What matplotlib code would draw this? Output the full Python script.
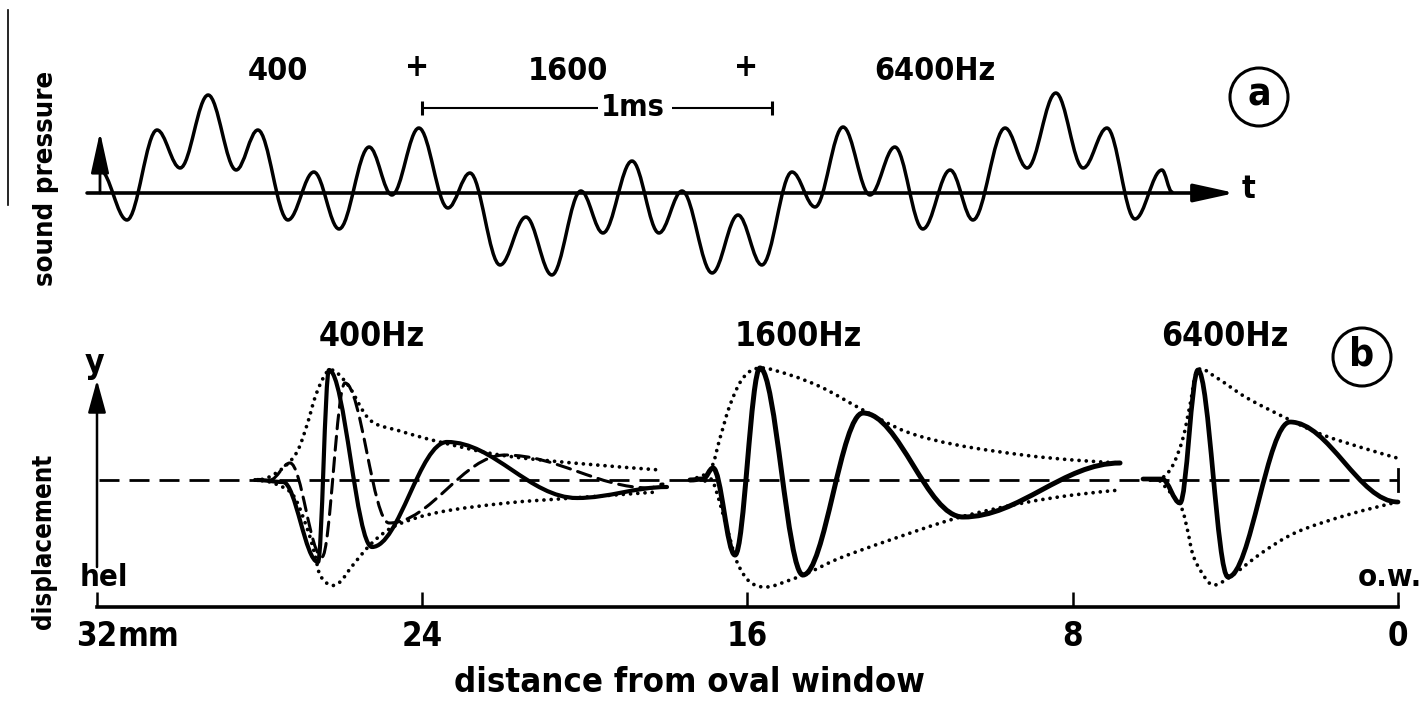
import matplotlib
matplotlib.use("Agg")
import matplotlib.pyplot as plt
import matplotlib.font_manager as fm
from matplotlib.path import Path
from matplotlib.patches import PathPatch, Circle, FancyArrowPatch

plt.rcParams['lines.scale_dashes'] = False

# ---------------- data ----------------
# (a) sound pressure: successive extrema of the waveform (time in ms, relative pressure)
wave_t = [0.000, 0.077, 0.163, 0.229, 0.309, 0.389, 0.451, 0.537, 0.611, 0.683,
          0.769, 0.834, 0.911, 0.994, 1.057, 1.143, 1.217, 1.291, 1.374, 1.437,
          1.520, 1.597, 1.663, 1.749, 1.823, 1.891, 1.977, 2.043, 2.123, 2.200,
          2.271, 2.351, 2.429, 2.494, 2.586, 2.649, 2.731, 2.809, 2.877, 2.957,
          3.034, 3.063]
wave_p = [0.23, -0.27, 0.63, 0.25, 0.98, 0.23, 0.63, -0.27, 0.21, -0.36,
          0.46, -0.02, 0.65, -0.15, 0.20, -0.72, -0.24, -0.82, 0.02, -0.40,
          0.32, -0.40, 0.02, -0.80, -0.22, -0.72, 0.21, -0.14, 0.66, -0.02,
          0.46, -0.36, 0.23, -0.27, 0.65, 0.25, 1.00, 0.25, 0.65, -0.26,
          0.23, 0.01]
top_labels = ['400', '+', '1600', '+', '6400Hz']
scale_bar_ms = 1.0

# (b) displacement vs distance from oval window (mm, relative displacement)
# 400 Hz: solid wave (extrema), dashed wave (later phase, extrema), envelope
s400_x = [28.064, 27.425, 26.564, 26.294, 25.236, 23.391, 20.193, 17.980]
s400_y = [0.00, -0.02, -0.82, 1.10, -0.67, 0.38, -0.18, -0.07]
d400_x = [27.745, 27.253, 26.466, 25.900, 24.818, 21.964, 18.398, 18.078]
d400_y = [0.00, 0.17, -0.77, 0.97, -0.43, 0.25, -0.08, -0.04]
env400u_x = [28.114, 27.819, 27.425, 27.081, 26.835, 26.589, 26.269, 25.826,
             25.285, 24.547, 23.563, 22.087, 20.292, 18.152]
env400u_y = [0.00, 0.02, 0.12, 0.28, 0.55, 0.88, 1.10, 0.95,
             0.60, 0.49, 0.38, 0.25, 0.17, 0.10]
env400l_x = [28.114, 27.671, 27.179, 26.835, 26.638, 26.515, 26.269, 26.023,
             25.703, 25.211, 24.621, 23.563, 21.915, 20.292, 18.226]
env400l_y = [0.00, -0.03, -0.15, -0.48, -0.75, -0.95, -1.05, -1.02,
             -0.85, -0.62, -0.45, -0.32, -0.23, -0.18, -0.12]
# 1600 Hz
s1600_x = [17.414, 17.094, 16.848, 16.307, 15.692, 14.635, 13.159, 10.699, 6.837]
s1600_y = [0.00, 0.01, 0.12, -0.75, 1.12, -0.95, 0.67, -0.37, 0.17]
env1600u_x = [17.414, 16.922, 16.676, 16.430, 16.110, 15.692, 14.954, 14.143,
              13.159, 12.076, 10.847, 9.223, 7.993, 6.837]
env1600u_y = [0.00, 0.10, 0.42, 0.75, 1.02, 1.12, 1.05, 0.92,
              0.70, 0.48, 0.35, 0.25, 0.20, 0.17]
env1600l_x = [17.045, 16.848, 16.504, 16.258, 15.938, 15.520, 14.954, 14.462,
              13.724, 12.495, 10.847, 9.223, 7.993, 6.837]
env1600l_y = [-0.01, -0.02, -0.48, -0.82, -1.02, -1.07, -1.00, -0.92,
              -0.78, -0.60, -0.38, -0.23, -0.15, -0.10]
# 6400 Hz
s6400_x = [6.272, 5.804, 5.361, 4.919, 4.181, 2.656, 0.000]
s6400_y = [0.01, 0.01, -0.23, 1.10, -0.97, 0.58, -0.22]
env6400u_x = [6.100, 5.804, 5.534, 5.288, 5.115, 4.919, 4.451, 3.713,
              2.656, 1.844, 0.860, 0.024]
env6400u_y = [0.00, 0.02, 0.15, 0.42, 0.75, 1.10, 1.02, 0.82,
              0.60, 0.45, 0.32, 0.22]
env6400l_x = [5.853, 5.361, 5.189, 5.042, 4.820, 4.550, 4.132, 3.320,
              2.484, 1.254, 0.024]
env6400l_y = [-0.01, -0.25, -0.48, -0.75, -0.93, -1.05, -0.97, -0.72,
              -0.52, -0.35, -0.22]
freq_labels = ['400Hz', '1600Hz', '6400Hz']
dist_ticks = [32, 24, 16, 8, 0]
dist_labels = ['32', '24', '16', '8', '0']


# ---------------- helpers ----------------
def pick_font():
    fl = fm.fontManager.ttflist
    names = {f.name for f in fl}
    if 'DejaVu Sans Condensed' in names:
        return dict(family='DejaVu Sans Condensed', weight='bold')
    if any(f.name == 'DejaVu Sans' and str(f.stretch) in ('condensed', 'semi-condensed')
           for f in fl):
        return dict(family='DejaVu Sans', stretch='condensed', weight='bold')
    if 'Liberation Sans Narrow' in names:
        return dict(family='Liberation Sans Narrow', weight='bold')
    return dict(family='DejaVu Sans', weight='bold')


FONT = pick_font()


def extrema_path(xs, ys, k=0.36):
    """smooth path through successive extrema (horizontal tangent at each)"""
    verts = [(xs[0], ys[0])]
    codes = [Path.MOVETO]
    for x0, y0, x1, y1 in zip(xs[:-1], ys[:-1], xs[1:], ys[1:]):
        dx = x1 - x0
        verts += [(x0 + k * dx, y0), (x1 - k * dx, y1), (x1, y1)]
        codes += [Path.CURVE4] * 3
    return Path(verts, codes)


def spline_path(xs, ys):
    """Catmull-Rom style smooth path through the read points"""
    P = list(zip(xs, ys))
    n = len(P)
    verts = [P[0]]
    codes = [Path.MOVETO]
    for i in range(n - 1):
        p0 = P[i - 1] if i > 0 else P[i]
        p1, p2 = P[i], P[i + 1]
        p3 = P[i + 2] if i + 2 < n else P[i + 1]
        c1 = (p1[0] + (p2[0] - p0[0]) / 6, p1[1] + (p2[1] - p0[1]) / 6)
        c2 = (p2[0] - (p3[0] - p1[0]) / 6, p2[1] - (p3[1] - p1[1]) / 6)
        verts += [c1, c2, p2]
        codes += [Path.CURVE4] * 3
    return Path(verts, codes)


def draw(ax, path, lw, ls='-', z=3):
    pp = PathPatch(path, fill=False, lw=lw, ls=ls, ec='black',
                   capstyle='round', joinstyle='round', zorder=z)
    ax.add_patch(pp)


DOT = (0, (0.01, 5.2))
W, H = 1426, 711
fig = plt.figure(figsize=(W / 100, H / 100), dpi=100)
fig.patch.set_facecolor('white')

# ---------------- panel (a) ----------------
axA = fig.add_axes([0, 1 - 355 / H, 1, 355 / H])
axA.set_xlim(-100 / 350, 1326 / 350)
axA.set_ylim(-1.62, 1.93)
axA.axis('off')
draw(axA, extrema_path(wave_t, wave_p), 2.5)
axA.add_patch(FancyArrowPatch((wave_t[0] - 0.037, 0), (wave_t[-1] + 0.18, 0),
                              arrowstyle='-|>,head_length=2.5,head_width=0.55',
                              mutation_scale=10, lw=2.6, color='black',
                              shrinkA=0, shrinkB=0, zorder=2))
axA.add_patch(FancyArrowPatch((wave_t[0], 0), (wave_t[0], 0.61),
                              arrowstyle='-|>,head_length=2.5,head_width=0.55',
                              mutation_scale=10, lw=2.0, color='black',
                              shrinkA=0, shrinkB=0, zorder=2))
# 1 ms scale bar
b0 = 0.92
b1 = b0 + scale_bar_ms
axA.plot([b0, 1.423], [0.85, 0.85], color='black', lw=1.5, solid_capstyle='butt')
axA.plot([1.634, b1], [0.85, 0.85], color='black', lw=1.5, solid_capstyle='butt')
axA.vlines([b0, b1], 0.78, 0.92, color='black', lw=2.2)

# ---------------- panel (b) ----------------
axB = fig.add_axes([0, 0, 1, 356 / H])
axB.set_facecolor('none')
axB.set_xlim(32 + 97 / 40.656, 32 - 1329 / 40.656)
axB.set_ylim(-2.31, 1.25)
for s in ('top', 'left', 'right'):
    axB.spines[s].set_visible(False)
axB.spines['bottom'].set_position(('data', -1.27))
axB.spines['bottom'].set_bounds(dist_ticks[0], dist_ticks[-1])
axB.spines['bottom'].set_linewidth(2.6)
axB.set_yticks([])

# dashed zero line with end stop at the oval window
axB.plot([dist_ticks[0] - 0.05, dist_ticks[-1]], [0, 0], color='black', lw=2.0,
         ls=(0, (14.4, 7.2)), dash_capstyle='butt', zorder=1)
axB.plot([dist_ticks[-1]] * 2, [-0.11, 0.11], color='black', lw=2.0, zorder=1)
# y arrow
axB.add_patch(FancyArrowPatch((dist_ticks[0], -0.87), (dist_ticks[0], 1.00),
                              arrowstyle='-|>,head_length=2.0,head_width=0.55',
                              mutation_scale=10, lw=1.8, color='black',
                              shrinkA=0, shrinkB=0, zorder=2))

for ux, uy, lx, ly in [(env400u_x, env400u_y, env400l_x, env400l_y),
                       (env1600u_x, env1600u_y, env1600l_x, env1600l_y),
                       (env6400u_x, env6400u_y, env6400l_x, env6400l_y)]:
    draw(axB, spline_path(ux, uy), 2.7, DOT, z=2)
    draw(axB, spline_path(lx, ly), 2.7, DOT, z=2)
draw(axB, extrema_path(d400_x, d400_y), 2.2, (0, (10, 5.5)), z=3)
draw(axB, extrema_path(s400_x, s400_y), 3.0, z=4)
draw(axB, extrema_path(s1600_x, s1600_y), 3.6, z=4)
draw(axB, extrema_path(s6400_x, s6400_y), 3.4, z=4)

# ---------------- text ----------------
renderer = fig.canvas.get_renderer()


def fit(t, target, along='w'):
    bb = t.get_window_extent(renderer=renderer)
    cur = bb.width if along == 'w' else bb.height
    t.set_fontsize(t.get_fontsize() * target / cur)
    return t.get_fontsize()


axT = fig.add_axes([0, 0, 1, 1], zorder=5)
axT.set_xlim(0, W)
axT.set_ylim(H, 0)
axT.axis('off')


def txt(x, y, s, size=22, **kw):
    return axT.text(x, y, s, fontsize=size, ha=kw.pop('ha', 'center'),
                    va=kw.pop('va', 'center'), **FONT, **kw)


# tick labels size from "24" width
tmp = txt(0, 0, '24')
tick_fs = fit(tmp, 41)
tmp.remove()
axB.set_xticks(dist_ticks, dist_labels, fontsize=tick_fs,
               **{('font' + k if k != 'family' else 'fontfamily'): v for k, v in FONT.items()})
axB.tick_params(axis='x', direction='in', length=11, width=1.8, pad=9)
lab32 = axB.get_xticklabels()[0]
axB.annotate('mm', xy=(1, 0), xycoords=lab32, ha='left', va='bottom',
             fontsize=tick_fs, **FONT)

# top labels
top_x = [278, 417, 568, 746, 935]
t400 = txt(top_x[0], 71, top_labels[0])
fs_top = fit(t400, 60)
for x, s in zip(top_x[1:], top_labels[1:]):
    txt(x, 68 if s == '+' else 71, s, fs_top)
txt(633, 108, '1ms', fs_top * 0.95)
txt(1248, 190, 't', fs_top)

# bottom frequency labels
t = txt(798, 336, freq_labels[1])
fs_f = fit(t, 127)
txt(372, 336, freq_labels[0], fs_f)
txt(1225, 336, freq_labels[2], fs_f)

# circled panel letters
for cx, cy, s in [(1259, 97, 'a'), (1362, 357, 'b')]:
    axT.add_patch(Circle((cx, cy), 29, fill=False, lw=2.2, ec='black'))
    txt(cx, cy - 2, s, 28)

# axis labels
t = txt(46, 178, 'sound pressure', rotation=90)
fit(t, 214, 'h')
t = txt(44, 541, 'displacement', rotation=90)
fit(t, 175, 'h')
t = txt(689, 682, 'distance from oval window')
fit(t, 468)
txt(95, 364, 'y', fs_f)
txt(104, 578, 'hel', fs_f * 0.92)
txt(1390, 578, 'o.w.', fs_f * 0.92)

# scan edge line at left
axT.plot([8, 8], [10, 205], color='black', lw=1.2)

fig.savefig('out.png', dpi=100, facecolor='white')
